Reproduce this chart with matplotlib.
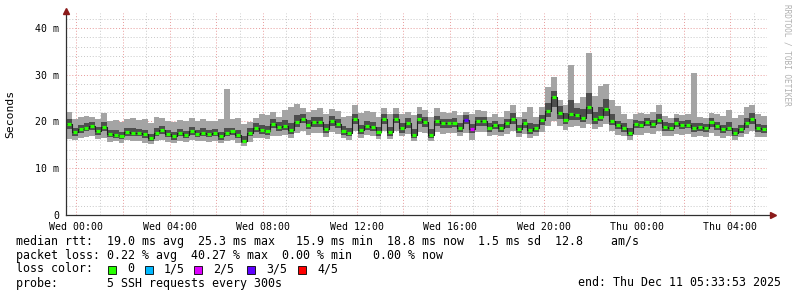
import matplotlib
matplotlib.use("Agg")
import matplotlib.pyplot as plt
import matplotlib.dates as mdates
from matplotlib.patches import Rectangle
import pandas as pd

# 30 h window in 15 min steps (values in ms)
start = "2025-12-09 23:33:53"
step = "15min"

med = [19.5, 17.8, 18.4, 18.7, 19.0, 18.0, 18.9, 17.3, 17.2, 16.9,
       17.8, 17.6, 17.5, 17.3, 16.4, 17.6, 18.1, 17.4, 16.8, 17.5,
       17.2, 17.9, 17.4, 17.6, 17.4, 17.5, 16.8, 17.5, 17.9, 17.2,
       15.9, 17.6, 18.6, 18.2, 17.9, 19.5, 18.8, 19.1, 18.2, 19.9,
       20.6, 19.2, 19.8, 19.8, 18.3, 20.0, 19.5, 18.0, 17.5, 20.6,
       18.1, 19.1, 18.8, 17.8, 20.5, 17.8, 20.6, 18.5, 19.6, 17.2,
       20.5, 19.8, 17.2, 20.0, 19.6, 19.6, 19.6, 18.6, 20.4, 18.4,
       20.0, 20.0, 18.6, 19.2, 18.6, 19.6, 20.6, 18.4, 19.6, 18.2,
       18.6, 20.3, 22.3, 25.3, 21.8, 20.4, 21.6, 21.4, 20.8, 23.0,
       20.5, 21.0, 22.6, 20.2, 19.2, 18.6, 17.6, 19.5, 19.3, 19.9,
       19.5, 20.4, 18.8, 18.7, 19.7, 19.2, 19.3, 18.5, 18.8, 18.6,
       19.8, 19.0, 18.3, 18.7, 17.6, 18.4, 19.6, 20.6, 18.5, 18.4]

ping_max = [22.0, 20.6, 20.9, 21.2, 21.0, 20.5, 21.8, 20.2, 20.4, 19.8,
            20.6, 20.8, 20.3, 20.5, 19.6, 20.9, 20.7, 20.2, 19.9, 20.4,
            20.1, 20.8, 20.2, 20.6, 20.0, 20.0, 20.5, 27.0, 20.6, 20.8,
            19.4, 19.8, 20.8, 21.5, 21.3, 22.0, 21.0, 22.4, 23.0, 23.8,
            22.8, 22.0, 22.5, 22.8, 21.5, 22.6, 22.2, 21.0, 21.2, 23.5,
            21.8, 22.3, 22.0, 21.0, 22.8, 21.5, 22.9, 21.6, 22.0, 21.4,
            23.0, 22.4, 21.0, 22.8, 22.0, 21.8, 22.2, 21.3, 22.0, 21.5,
            22.5, 22.3, 21.0, 21.6, 21.0, 22.2, 23.6, 21.0, 22.0, 23.0,
            21.0, 23.0, 27.3, 29.5, 24.5, 23.5, 32.0, 24.0, 25.2, 34.7,
            25.5, 27.5, 28.0, 24.6, 23.3, 21.5, 20.6, 21.6, 21.8, 21.7,
            22.0, 23.5, 21.2, 20.8, 21.6, 21.3, 21.6, 30.4, 21.0, 20.7,
            21.8, 21.5, 21.2, 22.5, 20.8, 21.3, 23.0, 23.5, 21.6, 21.2]

ping_min = [16.3, 16.0, 16.4, 16.6, 16.9, 16.2, 16.5, 15.6, 15.8, 15.5,
            16.0, 15.9, 15.8, 15.5, 15.2, 15.9, 16.1, 15.7, 15.3, 15.8,
            15.6, 16.0, 15.8, 15.9, 15.7, 15.8, 15.5, 15.9, 16.1, 15.4,
            14.7, 15.6, 16.5, 16.4, 16.2, 17.0, 16.8, 17.1, 16.4, 17.6,
            18.0, 17.2, 17.5, 17.6, 16.6, 17.8, 17.4, 16.4, 16.0, 18.0,
            16.4, 17.1, 16.9, 16.2, 18.0, 16.3, 18.0, 16.8, 17.4, 15.9,
            17.8, 17.6, 15.8, 17.7, 17.4, 17.5, 17.6, 16.8, 17.6, 16.0,
            17.8, 17.8, 16.8, 17.2, 16.9, 17.4, 17.9, 16.6, 17.4, 16.4,
            16.8, 17.8, 19.0, 20.2, 19.0, 18.2, 18.8, 19.0, 18.6, 19.5,
            18.4, 18.8, 19.4, 18.0, 17.2, 16.8, 16.0, 17.2, 17.2, 17.6,
            17.4, 17.9, 16.8, 16.8, 17.4, 17.2, 17.3, 16.7, 16.9, 16.7,
            17.5, 17.0, 16.4, 16.8, 16.0, 16.6, 17.4, 17.9, 16.7, 16.6]

ping_lo = [18.4, 17.0, 17.5, 17.9, 18.1, 17.2, 17.9, 16.6, 16.5, 16.2,
           17.0, 16.8, 16.8, 16.5, 15.8, 16.8, 17.3, 16.7, 16.1, 16.8,
           16.5, 17.1, 16.7, 16.9, 16.6, 16.8, 16.1, 16.8, 17.2, 16.4,
           15.4, 16.8, 17.7, 17.4, 17.1, 18.5, 18.0, 18.2, 17.4, 18.9,
           19.6, 18.3, 18.8, 18.9, 17.5, 19.0, 18.6, 17.2, 16.8, 19.5,
           17.3, 18.2, 17.9, 17.0, 19.4, 17.0, 19.6, 17.6, 18.7, 16.5,
           19.4, 18.9, 16.5, 19.0, 18.7, 18.7, 18.8, 17.8, 19.4, 17.5,
           19.1, 19.1, 17.8, 18.4, 17.8, 18.7, 19.5, 17.6, 18.7, 17.4,
           17.8, 19.3, 21.0, 23.0, 20.6, 19.5, 20.4, 20.3, 19.8, 21.5,
           19.5, 20.0, 21.2, 19.3, 18.3, 17.8, 16.9, 18.6, 18.5, 19.0,
           18.7, 19.4, 18.0, 17.9, 18.8, 18.4, 18.5, 17.7, 18.0, 17.8,
           18.9, 18.2, 17.5, 17.9, 16.9, 17.6, 18.7, 19.5, 17.7, 17.6]

ping_hi = [20.5, 18.7, 19.3, 19.7, 19.9, 18.9, 19.9, 18.2, 18.1, 17.8,
           18.7, 18.6, 18.3, 18.2, 17.3, 18.5, 19.0, 18.2, 17.7, 18.4,
           18.0, 18.8, 18.2, 18.5, 18.2, 18.3, 17.7, 18.6, 18.7, 18.1,
           16.9, 18.5, 19.6, 19.2, 19.0, 20.5, 19.8, 20.3, 19.6, 21.3,
           21.6, 20.3, 20.9, 21.0, 19.4, 21.1, 20.6, 19.0, 18.6, 21.7,
           19.2, 20.1, 19.9, 18.8, 21.5, 18.9, 21.6, 19.6, 20.7, 18.3,
           21.5, 20.9, 18.3, 21.1, 20.6, 20.5, 20.7, 19.6, 21.3, 19.4,
           21.0, 21.0, 19.6, 20.2, 19.5, 20.6, 21.8, 19.3, 20.6, 19.6,
           19.5, 21.4, 24.0, 26.5, 23.3, 21.8, 24.5, 22.8, 22.6, 26.0,
           22.0, 23.0, 24.8, 21.6, 20.2, 19.6, 18.6, 20.4, 20.2, 20.8,
           20.4, 21.5, 19.8, 19.6, 20.7, 20.1, 20.3, 19.6, 19.7, 19.5,
           20.8, 19.9, 19.2, 19.8, 18.5, 19.3, 20.8, 21.8, 19.4, 19.3]

# steps that lost pings: index -> lost count (of 5)
loss_at = [68, 69]
loss_of = [3, 2]

loss_colors = ["#26ff00", "#00b8ff", "#dd00ff", "#5e00ff", "#ff0000"]
loss_labels = ["0", "1/5", "2/5", "3/5", "4/5"]

legend_lines = [
    "median rtt:  19.0 ms avg  25.3 ms max   15.9 ms min  18.8 ms now  1.5 ms sd  12.8    am/s",
    "packet loss: 0.22 % avg  40.27 % max  0.00 % min   0.00 % now",
]
probe_text = "probe:       5 SSH requests every 300s"
end_text = "end: Thu Dec 11 05:33:53 2025"

W, H = 797, 297
MONO = "DejaVu Sans Mono"
plt.rcParams["font.family"] = MONO

fig = plt.figure(figsize=(W / 100, H / 100), dpi=100)
ax = fig.add_axes([66 / W, 82 / H, 701 / W, 202 / H])

t = pd.date_range(start, periods=len(med) + 1, freq=step)
x = mdates.date2num(t.to_pydatetime())


def ext(v):
    return list(v) + [v[-1]]


light = "#a4a4a4"
dark = "#4e4e4e"
ax.fill_between(x, ext(ping_min), ext(ping_lo), step="post", color=light, lw=0)
ax.fill_between(x, ext(ping_lo), ext(ping_hi), step="post", color=dark, lw=0)
ax.fill_between(x, ext(ping_hi), ext(ping_max), step="post", color=light, lw=0)
ax.step(x, ext(med), where="post", color="#202020", lw=0.8)

cols = [loss_colors[0]] * len(med)
for i, n in zip(loss_at, loss_of):
    cols[i] = loss_colors[n]
ax.hlines(med, x[:-1] + 0.15 * (x[1] - x[0]), x[1:] - 0.15 * (x[1] - x[0]),
          colors=cols, lw=2.3)

ax.set_xlim(x[0], x[-1])
ax.set_ylim(0, 43.2)

ax.xaxis.set_major_locator(mdates.HourLocator(byhour=range(0, 24, 2)))
ax.xaxis.set_minor_locator(mdates.HourLocator())
days = ["Mon", "Tue", "Wed", "Thu", "Fri", "Sat", "Sun"]
ax.xaxis.set_major_formatter(plt.FuncFormatter(
    lambda v, p: "" if mdates.num2date(v).hour % 4 else
    days[mdates.num2date(v).weekday()] + mdates.num2date(v).strftime(" %H:%M")))
ax.set_yticks([0, 10, 20, 30, 40])
ax.set_yticklabels(["0", "10 m", "20 m", "30 m", "40 m"])
ax.set_yticks(range(0, 44, 2), minor=True)

ax.grid(which="minor", color="#c8c8c8", lw=0.7, ls=(0, (1, 2)))
ax.grid(which="major", color="#e89a9a", lw=0.7, ls=(0, (1, 2)))
ax.set_axisbelow(True)
ax.tick_params(which="both", length=0, labelsize=7.1, colors="black")
ax.tick_params(axis="x", pad=5)
ax.tick_params(axis="y", pad=5)
for s in ax.spines.values():
    s.set_visible(False)

# axes lines with arrows
ax.plot([0, 0], [0, 1.012], transform=ax.transAxes, color="#303030", lw=0.9, clip_on=False)
ax.plot([0, 1.008], [0, 0], transform=ax.transAxes, color="#303030", lw=0.9, clip_on=False)
ax.plot(0, 1.012, marker="^", ms=4, color="#8b1a1a", transform=ax.transAxes, clip_on=False)
ax.plot(1.008, 0, marker=">", ms=4, color="#8b1a1a", transform=ax.transAxes, clip_on=False)

fig.text(10 / W, 1 - 114 / H, "Seconds", rotation=90, ha="center", va="center", fontsize=8.2)
fig.text(787 / W, 1 - 4 / H, "RRDTOOL / TOBI OETIKER", rotation=270, ha="center", va="top",
         fontsize=5.6, color="#b0b0b0")

fs = 8.35
fig.text(16 / W, 1 - 241 / H, legend_lines[0], fontsize=fs, va="center")
fig.text(16 / W, 1 - 255 / H, legend_lines[1], fontsize=fs, va="center")
fig.text(16 / W, 1 - 269 / H, "loss color:", fontsize=fs, va="center")
box_x = [108, 145, 194, 247, 298]
for bx, c, lab in zip(box_x, loss_colors, loss_labels):
    fig.patches.append(Rectangle((bx / W, 1 - 273.5 / H), 8 / W, 8 / H, transform=fig.transFigure,
                                 facecolor=c, edgecolor="black", lw=0.6))
    fig.text((bx + 19) / W, 1 - 269 / H, lab, fontsize=fs, va="center")
fig.text(16 / W, 1 - 283 / H, probe_text, fontsize=fs, va="center")
fig.text(781 / W, 1 - 283 / H, end_text, fontsize=fs, va="center", ha="right")

fig.savefig("out.png", dpi=100, facecolor="white")
